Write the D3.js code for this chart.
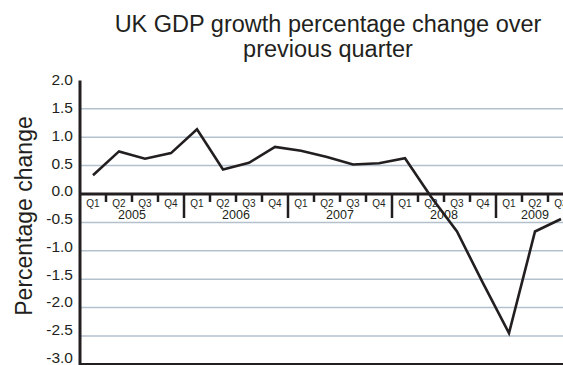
<!DOCTYPE html>
<html><head><meta charset="utf-8">
<script src="https://cdn.jsdelivr.net/npm/d3@7"></script>
<style>body{margin:0;background:#fff}svg{display:block}text{font-family:"Liberation Sans",Arial,Helvetica,sans-serif;fill:#231f20}</style>
</head><body><svg id="c" width="563" height="365"></svg>
<script>
const years = [2005, 2006, 2007, 2008, 2009];
const quarterNames = ["Q1", "Q2", "Q3", "Q4"];
const periods = ["2005Q1","2005Q2","2005Q3","2005Q4","2006Q1","2006Q2","2006Q3","2006Q4","2007Q1","2007Q2","2007Q3","2007Q4","2008Q1","2008Q2","2008Q3","2008Q4","2009Q1","2009Q2","2009Q3"];
const growth = [0.33, 0.75, 0.62, 0.72, 1.14, 0.43, 0.55, 0.83, 0.76, 0.65, 0.52, 0.54, 0.63, -0.05, -0.66, -1.57, -2.45, -0.66, -0.44];
const yTicks = [2.0, 1.5, 1.0, 0.5, 0.0, -0.5, -1.0, -1.5, -2.0, -2.5, -3.0];
const titleLines = ["UK GDP growth percentage change over", "previous quarter"];
const yTitle = "Percentage change";

const svg = d3.select("#c");
const left = 80, bw = 26;
const x = d3.scaleBand().domain(periods).range([left, left + periods.length * bw]).padding(0);
const y = d3.scaleLinear().domain([-3, 2]).range([364.4, 80.4]);
// tick labels in the reference sit on a slightly tighter spacing than the gridlines
const yLab = d3.scaleLinear().domain([-3, 2]).range([357.3, 79.8]);

// gridlines
svg.append("g").selectAll("line").data(yTicks.filter(d => d !== 0 && d !== -3 && d !== 2))
  .join("line").attr("x1", left).attr("x2", 563).attr("y1", d => y(d)).attr("y2", d => y(d))
  .attr("stroke", "#b3c1ce").attr("stroke-width", 1.5);

// y axis labels
const ya = svg.append("g").attr("transform", `translate(${left},0)`)
  .call(d3.axisLeft(yLab).tickValues(yTicks).tickSize(0).tickPadding(7).tickFormat(d => d.toFixed(1)));
ya.select(".domain").remove();
ya.selectAll("text").attr("font-size", 15.5).attr("fill", "#231f20").attr("font-family", "Liberation Sans, Arial, sans-serif");
svg.append("line").attr("x1", left).attr("x2", left).attr("y1", y(2)).attr("y2", y(-3) + 1.5)
  .attr("stroke", "#231f20").attr("stroke-width", 3);
svg.append("line").attr("x1", left).attr("x2", 563).attr("y1", y(-3)).attr("y2", y(-3))
  .attr("stroke", "#231f20").attr("stroke-width", 3);

// x axis at zero
const y0 = y(0);
svg.append("line").attr("x1", left).attr("x2", 563).attr("y1", y0).attr("y2", y0)
  .attr("stroke", "#231f20").attr("stroke-width", 3);
// quarter ticks
svg.append("g").selectAll("line").data(periods.filter(p => !p.endsWith("Q1")))
  .join("line").attr("x1", p => x(p)).attr("x2", p => x(p)).attr("y1", y0).attr("y2", y0 + 8)
  .attr("stroke", "#231f20").attr("stroke-width", 2.5);
// year ticks
svg.append("g").selectAll("line").data(periods.filter(p => p.endsWith("Q1") && p !== periods[0]))
  .join("line").attr("x1", p => x(p)).attr("x2", p => x(p)).attr("y1", y0).attr("y2", y0 + 24)
  .attr("stroke", "#231f20").attr("stroke-width", 2.5);
// quarter labels
svg.append("g").selectAll("text").data(periods).join("text")
  .attr("x", p => x(p) + bw / 2).attr("y", y0 + 13).attr("text-anchor", "middle")
  .attr("font-size", 10).text(p => quarterNames[+p.slice(5) - 1]);
// year labels
svg.append("g").selectAll("text").data(years).join("text")
  .attr("x", yr => {
    const ps = periods.filter(p => p.startsWith(String(yr)));
    return (x(ps[0]) + x(ps[ps.length - 1]) + bw) / 2;
  })
  .attr("y", y0 + 25).attr("text-anchor", "middle").attr("font-size", 12.5).text(yr => yr);

// data line
svg.append("path").datum(growth)
  .attr("d", d3.line().x((d, i) => x(periods[i]) + bw / 2).y(d => y(d)))
  .attr("fill", "none").attr("stroke", "#231f20").attr("stroke-width", 2.6).attr("stroke-linejoin", "miter");

// title
svg.append("g").selectAll("text").data(titleLines).join("text")
  .attr("x", 328).attr("y", (d, i) => 31.5 + i * 25.5).attr("text-anchor", "middle")
  .attr("font-size", 23.5).text(d => d);

// y title
svg.append("text").attr("transform", `translate(31.5,216) rotate(-90)`).attr("text-anchor", "middle")
  .attr("font-size", 23).text(yTitle);
</script></body></html>
